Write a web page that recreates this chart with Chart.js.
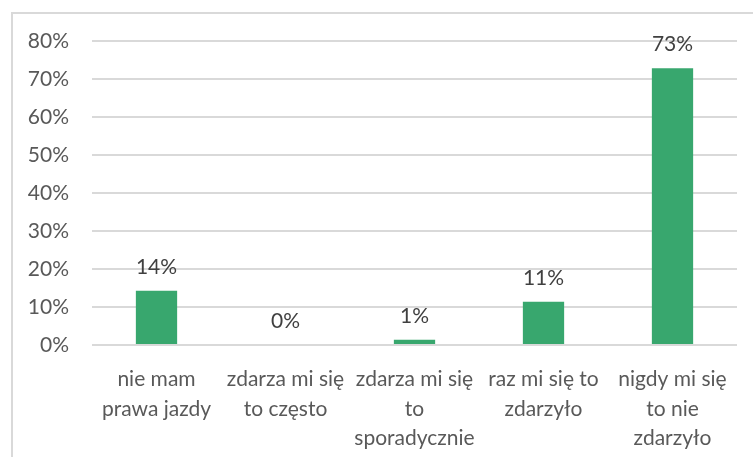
<!DOCTYPE html>
<html>
<head>
<meta charset="utf-8">
<script src="https://cdn.jsdelivr.net/npm/chart.js@4"></script>
<style>
  html, body { margin: 0; padding: 0; background: #fff; }
  #wrap { position: relative; width: 753px; height: 457px; overflow: hidden; }
  #frame { position: absolute; left: 11px; top: 12px; width: 800px; height: 500px;
           border-left: 2px solid #d9d9d9; border-top: 2px solid #d9d9d9; }
  #myChart { position: absolute; left: 0; top: 0; }
</style>
</head>
<body>
<div id="wrap">
  <div id="frame"></div>
  <canvas id="myChart" width="753" height="457"></canvas>
</div>
<script>
const categories = [
    ["nie mam", "prawa jazdy"],
    ["zdarza mi się", "to często"],
    ["zdarza mi się", "to", "sporadycznie"],
    ["raz mi się to", "zdarzyło"],
    ["nigdy mi się", "to nie", "zdarzyło"]
];
const values = [14.3, 0, 1.4, 11.4, 72.8];
const valueLabels = ["14%", "0%", "1%", "11%", "73%"];

const barLabels = {
    id: "barLabels",
    afterDatasetsDraw(chart) {
        const ctx = chart.ctx;
        const meta = chart.getDatasetMeta(0);
        ctx.save();
        ctx.font = "21px Lato";
        ctx.fillStyle = "#404040";
        ctx.textAlign = "center";
        ctx.textBaseline = "alphabetic";
        meta.data.forEach(function(bar, i) {
            ctx.fillText(valueLabels[i], bar.x, bar.y - 17);
        });
        ctx.restore();
    }
};

const ctx = document.getElementById("myChart");
const myChart = new Chart(ctx, {
    type: "bar",
    data: {
        labels: categories,
        datasets: [{
            data: values,
            backgroundColor: "#38a76e",
            borderWidth: 0,
            categoryPercentage: 1,
            barPercentage: 0.32
        }]
    },
    options: {
        responsive: false,
        animation: false,
        layout: { padding: { left: 0, right: 16, top: 41, bottom: 0 } },
        plugins: { legend: { display: false }, tooltip: { enabled: false } },
        scales: {
            x: {
                grid: { display: false, drawTicks: false },
                border: { display: false },
                ticks: {
                    color: "#595959",
                    font: { family: "Lato", size: 21, lineHeight: 1.4 },
                    padding: 20,
                    maxRotation: 0,
                    autoSkip: false
                },
                afterFit: function(scale) { scale.height = 112; }
            },
            y: {
                min: 0,
                max: 80,
                grid: { color: "#d9d9d9", lineWidth: 2, drawTicks: false },
                border: { display: false },
                ticks: {
                    stepSize: 10,
                    color: "#595959",
                    font: { family: "Lato", size: 21 },
                    padding: 23,
                    callback: function(v) { return v + "%"; }
                },
                afterFit: function(scale) { scale.width = 92; }
            }
        }
    },
    plugins: [barLabels]
});
</script>
</body>
</html>
